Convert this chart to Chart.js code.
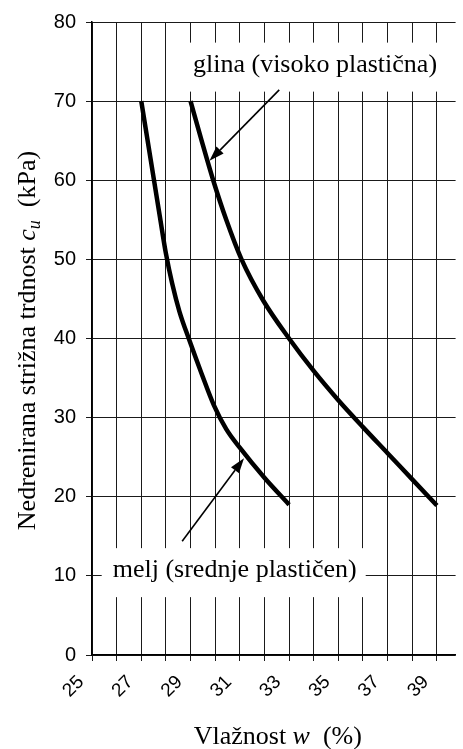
<!DOCTYPE html>
<html>
<head>
<meta charset="utf-8">
<script src="https://cdn.jsdelivr.net/npm/chart.js@4.4.1/dist/chart.umd.min.js"></script>
<style>
  html, body { margin: 0; padding: 0; background: #fff; }
</style>
</head>
<body>
<canvas id="chart" width="463" height="749"></canvas>
<script>
// melj (silt) curve
const siltW = [27, 27.75, 28.0, 28.25, 28.55, 28.95, 29.45, 29.95, 30.45, 31, 32, 33];
const siltCu = [70, 55.5, 50.75, 47.0, 43.4, 39.8, 35.55, 31.55, 28.55, 26.2, 22.4, 19];

// glina (clay) curve
const clayW = [29, 29.45, 29.92, 30.45, 31.07, 31.95, 33, 34, 35, 36, 37, 38, 39];
const clayCu = [70, 65, 60, 55, 50, 44.8, 40, 35.9, 32.2, 28.8, 25.5, 22.2, 18.9];

// axes
const xMin = 25, xMax = 39.76, xStep = 1;
const yMin = 0, yMax = 80, yStep = 10;

// annotation texts and arrows (in data units)
const noteText = ['glina (visoko plastična)', 'melj (srednje plastičen)'];
const noteW = [29.1, 25.84];
const noteCu = [73.73, 9.84];
const arrowFrom = [[32.6, 71.42], [28.66, 14.38]];
const arrowTo = [[29.77, 62.46], [31.17, 24.86]];

const SANS = '"Liberation Sans", Arial, sans-serif';
const SERIF = '"Liberation Serif", "Times New Roman", serif';

function toPoints(xs, ys) {
  return xs.map((v, i) => ({ x: v, y: ys[i] }));
}

const overlay = {
  id: 'overlay',
  beforeDatasetsDraw(chart) {
    const ctx = chart.ctx;
    const sx = chart.scales.x, sy = chart.scales.y;
    ctx.save();
    ctx.font = '26px ' + SERIF;
    ctx.textBaseline = 'alphabetic';
    noteText.forEach((t, i) => {
      const px = sx.getPixelForValue(noteW[i]);
      const py = sy.getPixelForValue(noteCu[i]);
      const tw = ctx.measureText(t).width;
      const padR = i === 0 ? chart.chartArea.right - (px + tw) : 9;
      ctx.fillStyle = '#fff';
      ctx.fillRect(px - 11, py - 29, tw + 11 + padR, 49);
      ctx.fillStyle = '#000';
      ctx.fillText(t, px, py);
    });
    ctx.restore();
  },
  afterDatasetsDraw(chart) {
    const ctx = chart.ctx;
    const sx = chart.scales.x, sy = chart.scales.y;
    ctx.save();
    ctx.strokeStyle = '#000';
    ctx.fillStyle = '#000';
    ctx.lineWidth = 1.6;
    arrowFrom.forEach((a, i) => {
      const x0 = sx.getPixelForValue(a[0]), y0 = sy.getPixelForValue(a[1]);
      const x1 = sx.getPixelForValue(arrowTo[i][0]), y1 = sy.getPixelForValue(arrowTo[i][1]);
      const ang = Math.atan2(y1 - y0, x1 - x0);
      const len = 15, half = 5;
      const bx = x1 - len * Math.cos(ang), by = y1 - len * Math.sin(ang);
      ctx.beginPath();
      ctx.moveTo(x0, y0);
      ctx.lineTo(bx, by);
      ctx.stroke();
      ctx.beginPath();
      ctx.moveTo(x1, y1);
      ctx.lineTo(bx + half * Math.sin(ang), by - half * Math.cos(ang));
      ctx.lineTo(bx - half * Math.sin(ang), by + half * Math.cos(ang));
      ctx.closePath();
      ctx.fill();
    });
    ctx.restore();
  },
  afterDraw(chart) {
    const ctx = chart.ctx;
    const area = chart.chartArea;
    ctx.save();
    ctx.fillStyle = '#000';
    ctx.textBaseline = 'alphabetic';

    // x title: Vlažnost w (%)
    const xParts = [
      { t: 'Vlažnost ', f: '26px ' + SERIF, dy: 0 },
      { t: 'w', f: 'italic 26px ' + SERIF, dy: 0 },
      { t: '  (%)', f: '26px ' + SERIF, dy: 0 }
    ];
    drawParts(ctx, xParts, (area.left + area.right) / 2 + 4, chart.height - 5);

    // y title: Nedrenirana strižna trdnost c_u (kPa)
    ctx.translate(35, (area.top + area.bottom) / 2 + 2);
    ctx.rotate(-Math.PI / 2);
    const yParts = [
      { t: 'Nedrenirana strižna trdnost ', f: '26px ' + SERIF, dy: 0 },
      { t: 'c', f: 'italic 26px ' + SERIF, dy: 0 },
      { t: 'u', f: 'italic 18px ' + SERIF, dy: 5 },
      { t: '  (kPa)', f: '26px ' + SERIF, dy: 0 }
    ];
    drawParts(ctx, yParts, 0, 0);
    ctx.restore();
  }
};

function drawParts(ctx, parts, cx, baseY) {
  let total = 0;
  parts.forEach(p => { ctx.font = p.f; p.w = ctx.measureText(p.t).width; total += p.w; });
  let x = cx - total / 2;
  ctx.textAlign = 'left';
  parts.forEach(p => {
    ctx.font = p.f;
    ctx.fillText(p.t, x, baseY + p.dy);
    x += p.w;
  });
}

new Chart(document.getElementById('chart'), {
  type: 'line',
  data: {
    datasets: [
      {
        label: 'glina (visoko plastična)',
        data: toPoints(clayW, clayCu),
        borderColor: '#000',
        borderWidth: 4.5,
        pointRadius: 0,
        cubicInterpolationMode: 'monotone',
        fill: false
      },
      {
        label: 'melj (srednje plastičen)',
        data: toPoints(siltW, siltCu),
        borderColor: '#000',
        borderWidth: 4.5,
        pointRadius: 0,
        cubicInterpolationMode: 'monotone',
        fill: false
      }
    ]
  },
  options: {
    responsive: false,
    animation: false,
    layout: { padding: { top: 21, right: 0, left: 0, bottom: 0 } },
    plugins: {
      legend: { display: false },
      tooltip: { enabled: false }
    },
    scales: {
      x: {
        type: 'linear',
        min: xMin,
        max: xMax,
        afterFit(scale) { scale.height = 94; },
        ticks: {
          stepSize: xStep,
          includeBounds: false,
          autoSkip: false,
          maxRotation: 45,
          minRotation: 45,
          padding: 10,
          labelOffset: -11,
          color: '#000',
          font: { family: SANS, size: 19 },
          callback: v => (v % 2 === 1 ? String(v) : '')
        },
        grid: { color: '#1a1a1a', lineWidth: 1, tickLength: 6, drawOnChartArea: true },
        border: { color: '#000', width: 1.5 }
      },
      y: {
        min: yMin,
        max: yMax,
        afterFit(scale) { scale.width = 92; },
        ticks: {
          stepSize: yStep,
          padding: 10,
          color: '#000',
          font: { family: SANS, size: 20 }
        },
        grid: { color: '#1a1a1a', lineWidth: 1, tickLength: 6 },
        border: { color: '#000', width: 1.5 }
      }
    }
  },
  plugins: [overlay]
});
</script>
</body>
</html>
